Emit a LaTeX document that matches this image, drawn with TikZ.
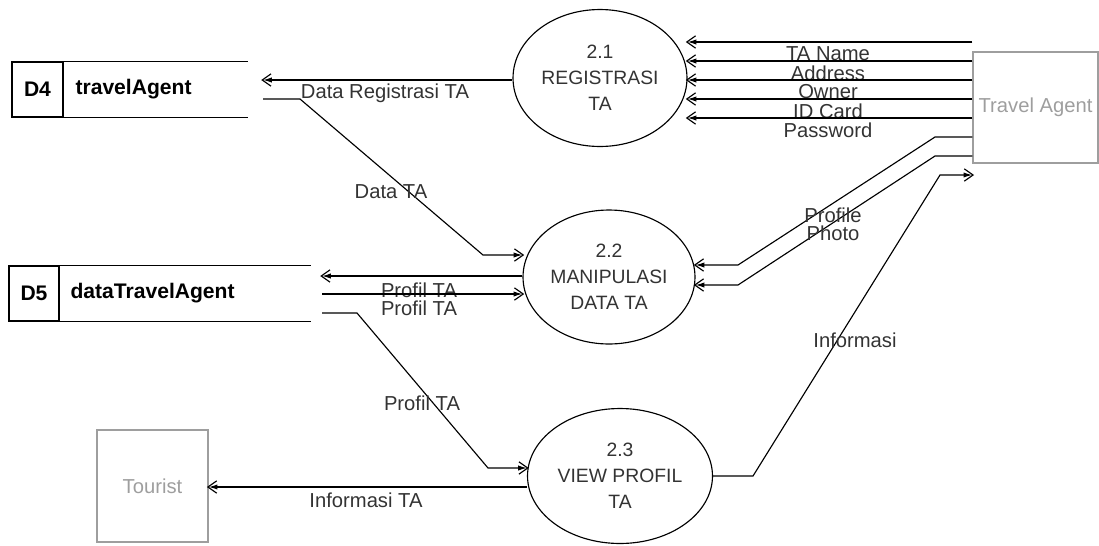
\documentclass[tikz,border=0pt]{standalone}
\usepackage{fontspec}
\setmainfont{Liberation Sans}
\usetikzlibrary{arrows.meta,shapes.geometric,positioning}
\definecolor{entitygray}{rgb}{0.62,0.62,0.62}
\definecolor{labelgray}{rgb}{0.2,0.2,0.2}

\tikzset{
  proc/.style={draw, ellipse, inner sep=0pt, align=center, text=labelgray,
    font=\fontsize{11}{14.7}\selectfont},
  entity/.style={draw=entitygray, line width=0.8pt, inner sep=0pt, text=entitygray,
    font=\fontsize{11.5}{14}\selectfont},
  storeid/.style={draw, inner sep=0pt, font=\fontsize{12}{14}\selectfont\bfseries},
  storename/.style={anchor=west, inner sep=0pt, font=\fontsize{12}{14}\selectfont\bfseries},
  flow/.style={-{Straight Barb[length=5pt,width=7pt,sep=-6pt]Latex[length=5pt,width=3pt]}},
  lbl/.style={text=labelgray, inner sep=0pt, font=\fontsize{11.5}{14}\selectfont},
}

\begin{document}
\begin{tikzpicture}[x=0.02cm, y=-0.02cm, line width=0.65pt]
\useasboundingbox (0,0) rectangle (1099,545);

\node (p21) at (600,78) [proc, minimum width=3.48cm, minimum height=2.74cm] {2.1\\REGISTRASI\\TA};
\node (p22) at (609,277) [proc, minimum width=3.44cm, minimum height=2.68cm] {2.2\\MANIPULASI\\DATA TA};
\node (p23) at (620,476) [proc, minimum width=3.7cm, minimum height=2.7cm] {2.3\\VIEW PROFIL\\TA};

\node (ta) at (1035.5,107.5) [entity, minimum width=2.5cm, minimum height=2.22cm] {Travel Agent};
\node (tourist) at (152.5,486) [entity, minimum width=2.22cm, minimum height=2.24cm] {Tourist};

\node (d4) at (37.5,89.5) [storeid, minimum width=1.02cm, minimum height=1.1cm] {D4};
\node (d4name) at (75,89.5) [storename] {travelAgent};
\draw (d4.north east) -- +(184,0);
\draw (d4.south east) -- +(184,0);

\node (d5) at (34,293.5) [storeid, minimum width=1cm, minimum height=1.1cm] {D5};
\node (d5name) at (70,293.5) [storename] {dataTravelAgent};
\draw (d5.north east) -- +(251,0);
\draw (d5.south east) -- +(251,0);

\coordinate (d4in) at (263,80);
\coordinate (d4out) at (263,99);
\draw[flow] (p21.west |- d4in) -- (d4in);
\node (lregis) at (385,93) [lbl] {Data Registrasi TA};

\draw[flow] (d4out) -- (300,99) -- (483,255) -- (p22.west |- 0,255);
\node (ldata) at (391,192) [lbl] {Data TA};

\draw[flow] (p22.west |- 0,276) -- (322,276);
\node (lprof1) at (419,290) [lbl] {Profil TA};
\draw[flow] (322,294) -- (p22.west |- 0,294);
\node (lprof2) at (419,308) [lbl] {Profil TA};

\draw[flow] (322,313) -- (357,313) -- (488,468) -- (p23.west |- 0,468);
\node (lprof3) at (422,403) [lbl] {Profil TA};

\draw[flow] (p23.west |- 0,487) -- (tourist.east |- 0,487);
\node (linfota) at (366,500) [lbl] {Informasi TA};

\draw[flow] (p23.east) -- (753,476) -- (940,175) -- (ta.west |- 0,175);
\node (linfo) at (855,340) [lbl] {Informasi};

\draw[flow] (ta.west |- 0,137) -- (935,137) -- (738,265) -- (p22.east |- 0,265);
\draw[flow] (ta.west |- 0,156) -- (935,156) -- (738,285) -- (p22.east |- 0,285);
\node (lprofile) at (833,215) [lbl] {Profile};
\node (lphoto) at (833,233) [lbl] {Photo};

\foreach \yy/\txt in {42/TA Name,61/Address,80/Owner,99/ID Card,118/Password}{
  \draw[flow] (ta.west |- 0,\yy) -- (p21.east |- 0,\yy);
  \node (l\yy) at (828,\yy+12) [lbl] {\txt};
}

\end{tikzpicture}
\end{document}
